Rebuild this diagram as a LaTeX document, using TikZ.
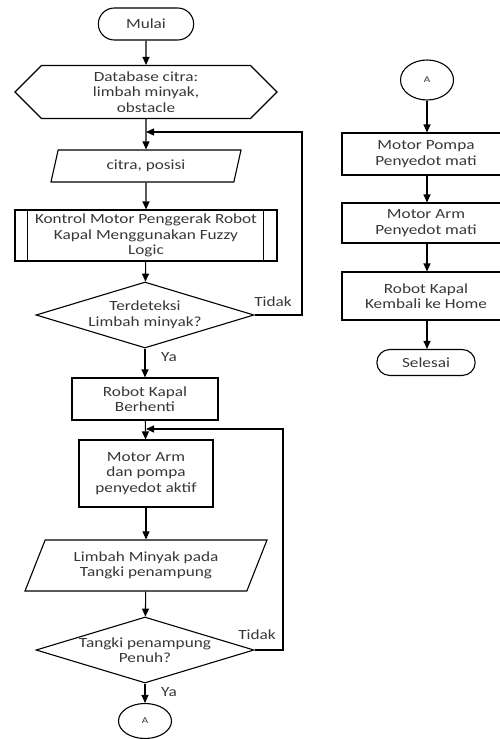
\documentclass[tikz,border=0pt]{standalone}
\usepackage{fontspec}
\setmainfont{Carlito}[FakeStretch=1.23]
\usepackage{tikz}
\usetikzlibrary{shapes.geometric, shapes.misc, shapes.symbols, arrows.meta}
\definecolor{txtgray}{RGB}{55,55,55}

\begin{document}
\begin{tikzpicture}[x=1pt, y=-1pt, line width=1.1pt,
    every node/.style={text=txtgray, font=\fontsize{14}{15.6}\selectfont, align=center},
    terminal/.style={draw=black, rounded rectangle, minimum width=102pt, minimum height=32pt},
    database/.style={draw=black, signal, signal to=west and east, signal pointer angle=90, minimum width=262pt, minimum height=53pt, inner sep=0pt},
    io/.style={draw=black, trapezium, trapezium left angle=#1, trapezium right angle=180-#1, trapezium stretches body, inner sep=0pt},
    process/.style={draw=black, rectangle, inner sep=0pt},
    decision/.style={draw=black, diamond, inner xsep=-20pt, inner ysep=0pt, shape aspect=3.3, minimum width=218pt, minimum height=66pt},
    connector/.style={draw=black, ellipse, inner sep=0pt},
    arrow/.style={-{Triangle[length=8pt, width=7pt]}, line width=1.1pt}]
    \clip (0,0) rectangle (500,739);

    % Left column
    \node[terminal] (mulai) at (146,24) {Mulai};
    \node[database] (db) at (146,92) {Database citra:\\limbah minyak,\\obstacle};
    \node[io=59, minimum width=190pt, minimum height=32pt] (citra) at (146,166) {citra, posisi};
    \node[process, minimum width=262pt, minimum height=51pt] (kontrol) at (146,235.5) {Kontrol Motor Penggerak Robot\\Kapal Menggunakan Fuzzy\\Logic};
    \draw ([xshift=13pt]kontrol.north west) -- ([xshift=13pt]kontrol.south west);
    \draw ([xshift=-14pt]kontrol.north east) -- ([xshift=-14pt]kontrol.south east);
    \node[decision] (deteksi) at (145,315) {Terdeteksi\\Limbah minyak?};
    \node[process, minimum width=146pt, minimum height=42pt] (berhenti) at (145,399) {Robot Kapal\\Berhenti};
    \node[process, minimum width=134pt, minimum height=67pt] (aktif) at (146,473.5) {Motor Arm\\dan pompa\\penyedot aktif};
    \node[io=54, minimum width=242pt, minimum height=51pt] (limbah) at (146,565.5) {Limbah Minyak pada\\Tangki penampung};
    \node[decision] (penuh) at (145,650) {Tangki penampung\\Penuh?};
    \node[connector, minimum width=53pt, minimum height=35pt] (a1) at (145,721) {\small A};

    \coordinate (j1) at (146,132);
    \coordinate (loop1) at (302,132);
    \coordinate (j2) at (146,429);
    \coordinate (loop2) at (283,429);

    \draw[arrow] (mulai) -- (db);
    \draw[arrow] (db) -- (citra);
    \draw[arrow] (citra) -- (kontrol);
    \draw[arrow] (kontrol) -- (deteksi);
    \draw[arrow] (deteksi) -- (berhenti);
    \draw[arrow] (deteksi.east) -| (loop1) -- (j1);
    \draw[arrow] (berhenti) -- (aktif);
    \draw[arrow] (aktif) -- (limbah);
    \draw[arrow] (limbah) -- (penuh);
    \draw[arrow] (penuh) -- (a1);
    \draw[arrow] (penuh.east) -| (loop2) -- (j2);

    \node (tidak1) at (273,302) {Tidak};
    \node (ya1) at (169,357) {Ya};
    \node (tidak2) at (257,635) {Tidak};
    \node (ya2) at (169,692) {Ya};

    % Right column
    \node[connector, minimum width=53pt, minimum height=40pt] (a2) at (427,80) {\small A};
    \node[process, minimum width=168pt, minimum height=42pt] (pompa) at (426,154) {Motor Pompa\\Penyedot mati};
    \node[process, minimum width=168pt, minimum height=40pt] (mati) at (426,223) {Motor Arm\\Penyedot mati};
    \node[process, minimum width=168pt, minimum height=48pt] (kembali) at (426,296) {Robot Kapal\\Kembali ke Home};
    \node[terminal, minimum width=105pt, minimum height=26pt] (selesai) at (426,362.5) {Selesai};

    \draw[arrow] (a2) -- (a2 |- pompa.north);
    \draw[arrow] (pompa.south -| a2) -- (mati.north -| a2);
    \draw[arrow] (mati.south -| a2) -- (kembali.north -| a2);
    \draw[arrow] (kembali.south -| a2) -- (a2 |- selesai.north);
\end{tikzpicture}
\end{document}
